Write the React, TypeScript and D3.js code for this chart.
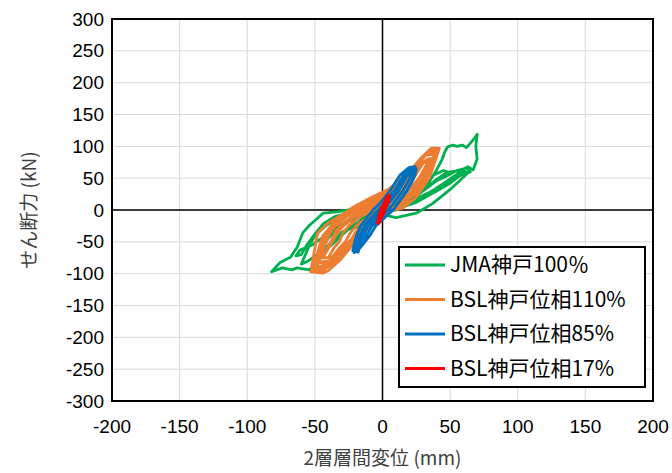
import * as d3 from "d3";

// x: 層間変位 (mm), y: せん断力 (kN)
const xTicks = [-200, -150, -100, -50, 0, 50, 100, 150, 200];
const yTicks = [-300, -250, -200, -150, -100, -50, 0, 50, 100, 150, 200, 250, 300];

const seriesNames = ["JMA神戸100％", "BSL神戸位相110%", "BSL神戸位相85%", "BSL神戸位相17%"];
const seriesColors = ["#00B050", "#ED7D31", "#0070C0", "#FF0000"];

const jmaKobe100: [number, number][] = [
  [0, 0], [10, 10], [20, 25], [28, 40], [24, 38], [10, 20], [-5, 0], [-15, -15], [-25, -30], [-20, -28], [-8, -12], [5, 2],
  [15, 5], [25, 12], [35, 24], [45, 36], [52, 50], [59, 63], [63, 68], [67, 63], [70, 80], [69, 100], [70, 119],
  [67, 110], [65, 105], [62, 98], [59, 102], [55, 100], [52, 102], [48, 99], [46, 91], [44, 79], [40, 63], [33, 39],
  [25, 24], [18, 11], [10, 0], [0, -5],
  [-10, -8], [-25, -18], [-34, -30], [-41, -47], [-46, -63], [-50, -86], [-54, -94], [-60, -92], [-63, -91], [-67, -94],
  [-74, -91], [-82, -97], [-76, -83], [-68, -74], [-63, -58], [-59, -36], [-54, -24], [-48, -13], [-44, -5], [-34, -3],
  [-25, 0], [-17, 5], [-5, 5],
  [5, 3], [15, 8], [25, 18], [35, 28], [45, 40], [55, 52], [62, 58], [58, 62], [50, 60], [42, 50], [35, 38], [25, 22],
  [15, 8], [5, -3],
  [-10, -10], [-20, -22], [-30, -35], [-40, -55], [-48, -70], [-55, -80], [-60, -85], [-58, -75], [-55, -60], [-50, -40],
  [-42, -25], [-35, -15], [-25, -8], [-15, -3], [0, 0],
  [10, 5], [20, 15], [30, 30], [40, 48], [48, 60], [45, 62], [38, 55], [30, 42], [20, 25], [8, 8], [-5, -5], [-15, -15],
  [-25, -30], [-35, -50], [-45, -68], [-50, -75], [-47, -65], [-42, -48], [-35, -30], [-25, -15], [-10, -3], [0, 2],
  [5, 0], [15, 6], [28, 16], [40, 30], [50, 42], [58, 55], [65, 60], [62, 66], [55, 62], [46, 52], [38, 44], [28, 32],
  [18, 18], [8, 4], [-5, -6], [-18, -12], [-30, -22], [-42, -40], [-52, -55], [-61, -63], [-64, -72], [-60, -70],
  [-56, -55], [-50, -38], [-44, -22], [-35, -10], [-22, -4], [-8, 0], [2, -8],
  [10, -12], [25, -5], [37, 10], [51, 34], [57, 46], [63, 58], [60, 62], [52, 52], [44, 40], [34, 26], [22, 12], [10, 0],
];

const bslKobe110: [number, number][] = [
  [0, 0], [3, -3], [15, 3], [25, 20], [35, 52], [42, 97],
  [36, 97], [29, 83], [19, 58], [10, 35], [-4, 16], [-19, 8], [-31, -9], [-40, -20], [-48, -36], [-50, -60], [-53, -97],
  [-44, -99], [-40, -95], [-31, -78], [-19, -47], [-9, -16], [3, -3],
  [12, 5], [24, 25], [33, 55], [40, 90],
  [35, 92], [28, 78], [18, 55], [8, 36], [-6, 14], [-20, 2], [-33, -15], [-44, -40], [-49, -75], [-51, -93],
  [-45, -93], [-36, -80], [-26, -58], [-15, -35], [-4, -12], [6, 0],
  [18, 14], [28, 38], [36, 70], [39, 82],
  [33, 80], [24, 62], [14, 46], [2, 28], [-12, 12], [-26, -4], [-38, -25], [-46, -60], [-48, -88],
  [-40, -88], [-32, -70], [-22, -50], [-12, -28], [0, -8], [10, 4],
  [20, 18], [30, 45], [37, 80],
  [30, 76], [22, 60], [10, 42], [-2, 22], [-16, 6], [-30, -12], [-40, -35], [-45, -70], [-47, -82],
  [-38, -80], [-28, -62], [-18, -38], [-6, -15], [5, -1],
  [16, 10], [27, 32], [34, 58], [38, 88],
  [32, 86], [26, 72], [16, 50], [4, 30], [-10, 16], [-24, 0], [-36, -20], [-43, -48], [-50, -85], [-52, -95],
  [-46, -97], [-38, -86], [-28, -66], [-17, -42], [-7, -20], [4, -4],
  [22, 22], [31, 50], [38, 85], [41, 95],
  [36, 94], [27, 76], [17, 56], [6, 34], [-8, 20], [-22, 4], [-34, -14], [-45, -45], [-51, -90],
  [-43, -92], [-34, -75], [-24, -55], [-13, -32], [-2, -10], [9, 3],
  // inner cycles
  [12.5, 15], [20.5, 25], [26.5, 40], [29.5, 50], [32.5, 65], [35, 75],
  [29, 75], [25.5, 65], [20.5, 50], [15.5, 40], [7.5, 25], [-2.5, 15], [-16.5, 0], [-26, -10], [-34.5, -25],
  [-38.5, -35], [-41.5, -50], [-44, -60], [-46.5, -75],
  [-37.5, -75], [-32, -60], [-27.5, -50], [-23.5, -35], [-19.5, -25], [-10, -10], [0.5, 0],
  [7, 15], [16, 25], [23, 40], [27, 50], [31, 65], [34, 75],
  [30, 75], [27, 65], [23, 50], [19, 40], [12, 25], [3, 15], [-10, 0], [-20, -10], [-29, -25], [-33, -35],
  [-37, -50], [-40, -60], [-44, -75],
  [-40, -75], [-36, -60], [-32, -50], [-29, -35], [-25, -25], [-16, -10], [-6, 0],
  [9, 15], [17, 25], [24, 40], [27, 50], [31, 65], [33.5, 75],
  [30.5, 75], [27.5, 65], [23, 50], [18, 40], [11, 25], [1, 15], [-12, 0], [-22, -10], [-31, -25], [-35, -35],
  [-38, -50], [-41, -60], [-44, -75],
  [-35, -75], [-29, -60], [-24, -50], [-20, -35], [-16, -25], [-6, -10], [5, 0],
  [16, 15], [24, 25], [29, 40], [32, 50], [34, 65], [36.5, 75],
  [27.5, 75], [24, 65], [18, 50], [13, 40], [4, 25], [-6, 15], [-21, 0], [-30, -10], [-38, -25], [-42, -35],
  [-45, -50], [-47, -60], [-49, -75], [-50, -80],
  [-42, -85], [-33, -68], [-23, -46], [-12, -24], [0, -6],
];

const bslKobe85: [number, number][] = [
  [0, 0], [8, 0], [13, 15], [18, 30], [22, 45], [24, 55], [25, 64], [24, 68],
  [20, 67], [18, 64], [13, 55], [10, 45], [5.5, 30], [0, 15], [-7, 0], [-11.5, -12], [-16, -25], [-19, -39],
  [-20.5, -50], [-21.5, -62], [-21, -67],
  [-18.5, -62], [-14.9, -50], [-11.5, -39], [-7.8, -25], [-1.8, -12], [4.3, 0], [9.8, 15], [14.9, 30], [19, 45],
  [21.3, 55], [23.3, 64],
  [19.8, 64], [15.8, 55], [13, 45], [8.6, 30], [3.3, 15], [-3.3, 0], [-8.3, -12], [-13.3, -25], [-16.5, -39],
  [-18.6, -50], [-20.5, -62],
  [-19.5, -62], [-16.8, -50], [-14, -39], [-10.5, -25], [-5, -12], [0.5, 0], [6.5, 15], [11.8, 30], [16, 45], [18.5, 55],
  [15, 52], [13, 45], [8.6, 30], [3.3, 15], [-3.3, 0], [-8.3, -12], [-13.3, -25], [-16.5, -39], [-18.6, -50],
  [-13, -50], [-9, -39], [-5, -25], [1.5, -12], [8, 0], [13, 15], [18, 30], [22, 45], [24, 55],
  [18.5, 55], [16, 45], [11.8, 30], [6.5, 15], [0.5, 0], [-5, -12], [-10.5, -25], [-14, -39], [-16.8, -50], [-19.5, -62],
  [-18, -60], [-14.5, -48], [-11, -37], [-7, -22], [-1, -10], [5, 2], [10.5, 17], [15.5, 32], [19.5, 47], [22, 58],
  [18, 62], [13, 55], [10, 45], [5.5, 30], [0, 15], [-7, 0], [-11.5, -12], [-16, -25], [-19, -39], [-20.5, -50],
  [-22, -64],
  [-18, -66], [-17.5, -62], [-13, -50], [-9, -39], [-5, -25], [1.5, -12], [8, 0], [12.5, 14], [17.5, 29], [21.5, 44],
  [23.5, 54], [24.5, 62],
  [20.5, 63], [16.5, 54], [13.5, 44], [9, 29], [3.8, 14], [-2.8, -1], [-8, -13], [-13, -26], [-16, -40], [-18, -52],
  [-20, -60],
];

const bslKobe17: [number, number][] = [
  [0, 0], [2, 3], [4, 12], [5, 20], [5, 23], [3.5, 21], [1.5, 12], [-0.5, 3], [-2.5, -8], [-3.5, -20], [-3, -21],
  [-2, -17], [0, -8], [2, 3], [4, 12], [4.5, 18], [3, 17], [1, 8], [-1, -2], [-2.8, -12], [-3.2, -18], [-1.5, -14],
  [0.5, -4], [2.5, 6], [4, 16], [3.5, 20], [2, 12], [0, 2], [-2, -8], [-3, -16], [-1, -10], [0, -2],
];

const allSeries = [jmaKobe100, bslKobe110, bslKobe85, bslKobe17];

const W = 672;
const H = 473;
const margin = { left: 112, right: 19, top: 19, bottom: 72 };

export default function App() {
  const x = d3.scaleLinear().domain([-200, 200]).range([margin.left, W - margin.right]);
  const y = d3.scaleLinear().domain([-300, 300]).range([H - margin.bottom, margin.top]);
  const line = d3
    .line<[number, number]>()
    .x((d) => x(d[0]))
    .y((d) => y(d[1]))
    .curve(d3.curveLinear);

  const font = "'Liberation Sans', Arial, 'Noto Sans CJK JP', sans-serif";
  const jpFont = "'Noto Sans CJK JP', sans-serif";

  const legX = 399;
  const legY = 247;

  return (
    <svg
      width={W}
      height={H}
      style={{ position: "absolute", left: 0, top: 0, background: "#fff" }}
    >
      {/* grid */}
      {xTicks.map((t) => (
        <line key={"gx" + t} x1={x(t)} x2={x(t)} y1={y(300)} y2={y(-300)} stroke="#D9D9D9" strokeWidth={1} />
      ))}
      {yTicks.map((t) => (
        <line key={"gy" + t} x1={x(-200)} x2={x(200)} y1={y(t)} y2={y(t)} stroke="#D9D9D9" strokeWidth={1} />
      ))}

      {/* axes through zero */}
      <line x1={x(0)} x2={x(0)} y1={y(300)} y2={y(-300)} stroke="#000" strokeWidth={1.5} />
      <line x1={x(-200)} x2={x(200)} y1={y(0)} y2={y(0)} stroke="#000" strokeWidth={1.5} />

      {/* series */}
      {allSeries.map((s, i) => (
        <path
          key={i}
          d={line(s) ?? ""}
          fill="none"
          stroke={seriesColors[i]}
          strokeWidth={i === 3 ? 3.2 : 2.8}
          strokeLinejoin="round"
          strokeLinecap="round"
        />
      ))}

      {/* plot border */}
      <rect
        x={x(-200)}
        y={y(300)}
        width={x(200) - x(-200)}
        height={y(-300) - y(300)}
        fill="none"
        stroke="#000"
        strokeWidth={2}
      />

      {/* y tick labels */}
      {yTicks.map((t) => (
        <text
          key={"yl" + t}
          x={x(-200) - 8}
          y={y(t)}
          dy="0.35em"
          textAnchor="end"
          fontFamily={font}
          fontSize={19}
          fill="#000"
        >
          {t}
        </text>
      ))}

      {/* x tick labels */}
      {xTicks.map((t) => (
        <text
          key={"xl" + t}
          x={x(t)}
          y={y(-300) + 32}
          textAnchor="middle"
          fontFamily={font}
          fontSize={19}
          fill="#000"
        >
          {t}
        </text>
      ))}

      {/* axis titles */}
      <text x={x(0)} y={465} textAnchor="middle" fontFamily={jpFont} fontSize={19} fill="#404040">
        2層層間変位 (mm)
      </text>
      <text
        transform={`translate(36,${y(0)}) rotate(-90)`}
        textAnchor="middle"
        fontFamily={jpFont}
        fontSize={19}
        fill="#404040"
      >
        せん断力 (kN)
      </text>

      {/* legend */}
      <rect x={legX} y={legY} width={246} height={140} fill="#fff" stroke="#000" strokeWidth={2} />
      {seriesNames.map((name, i) => (
        <g key={name} transform={`translate(${legX},${legY + 18 + i * 34.5})`}>
          <line x1={6} x2={46} y1={0} y2={0} stroke={seriesColors[i]} strokeWidth={2.8} />
          <text x={51} y={0} dy="0.35em" fontFamily={jpFont} fontSize={21} fill="#000">
            {name}
          </text>
        </g>
      ))}
    </svg>
  );
}
